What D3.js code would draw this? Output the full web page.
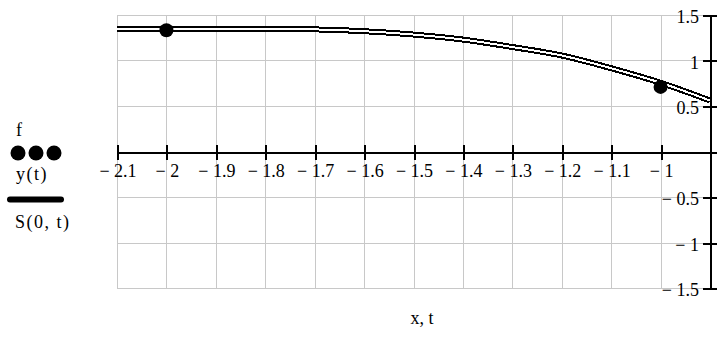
<!DOCTYPE html>
<html>
<head>
<meta charset="utf-8">
<script src="https://cdn.jsdelivr.net/npm/d3@7"></script>
<style>
  html, body { margin: 0; padding: 0; background: #fff; }
  svg { display: block; }
  text { font-family: "Liberation Serif", "Times New Roman", serif; font-size: 18px; fill: #000; }
</style>
</head>
<body>
<svg id="chart" width="717" height="349"></svg>
<script>
// Sample points f
const fX = [-2, -1];
const fY = [1.333, 0.71];

// Curve y(t) and its spline S(0, t)
const tVals = [-2.1, -2.0, -1.9, -1.8, -1.7, -1.6, -1.5, -1.4, -1.3, -1.2, -1.1, -1.0, -0.9];
const yVals = [1.35, 1.35, 1.35, 1.348, 1.342, 1.322, 1.285, 1.23, 1.148, 1.055, 0.915, 0.755, 0.56];

// Axis ticks
const xTicks = [-2.1, -2.0, -1.9, -1.8, -1.7, -1.6, -1.5, -1.4, -1.3, -1.2, -1.1, -1.0];
const xTickLabels = ["2.1", "2", "1.9", "1.8", "1.7", "1.6", "1.5", "1.4", "1.3", "1.2", "1.1", "1"];
const yTicks = [1.5, 1, 0.5, 0, -0.5, -1, -1.5];
const yTickLabels = ["1.5", "1", "0.5", "", "0.5", "1", "1.5"];

// Legend entries
const legendNames = ["f", "y(t)", "S(0, t)"];

const svg = d3.select("#chart");
const x = d3.scaleLinear().domain([-2.1, -0.9]).range([117, 710]);
const y = d3.scaleLinear().domain([-1.5, 1.5]).range([288, 15]);

// grid
const grid = svg.append("g").attr("shape-rendering", "crispEdges");
grid.selectAll("line.v").data(d3.range(-2.1, -0.85, 0.1).map(v => +v.toFixed(1)))
  .join("line")
  .attr("x1", d => Math.round(x(d)) + 0.5).attr("x2", d => Math.round(x(d)) + 0.5)
  .attr("y1", y(1.5)).attr("y2", y(-1.5))
  .attr("stroke", "#c8c8c8").attr("stroke-width", 1);
grid.selectAll("line.h").data(yTicks.filter(v => v !== 0))
  .join("line")
  .attr("x1", x(-2.1)).attr("x2", x(-0.9))
  .attr("y1", d => Math.round(y(d)) + 0.5).attr("y2", d => Math.round(y(d)) + 0.5)
  .attr("stroke", "#c8c8c8").attr("stroke-width", 1);

// x axis through y = 0
const y0 = Math.round(y(0)) + 0.5;
const ax = svg.append("g").attr("shape-rendering", "crispEdges");
ax.append("line").attr("x1", x(-2.1)).attr("x2", x(-0.9)).attr("y1", y0).attr("y2", y0)
  .attr("stroke", "#000").attr("stroke-width", 2);
ax.selectAll("line.xt").data(xTicks).join("line")
  .attr("x1", d => Math.round(x(d)) + 0.5).attr("x2", d => Math.round(x(d)) + 0.5)
  .attr("y1", y0 - 8).attr("y2", y0 + 7)
  .attr("stroke", "#000").attr("stroke-width", 2);

// right-hand y axis at x = -0.9
const xr = Math.round(x(-0.9)) + 0.5;
ax.append("line").attr("x1", xr).attr("x2", xr).attr("y1", y(1.5)).attr("y2", y(-1.5))
  .attr("stroke", "#000").attr("stroke-width", 2);
ax.selectAll("line.yt").data(yTicks).join("line")
  .attr("x1", xr - 8).attr("x2", xr + 8)
  .attr("y1", d => Math.round(y(d)) + 0.5).attr("y2", d => Math.round(y(d)) + 0.5)
  .attr("stroke", "#000").attr("stroke-width", 2);

// x tick labels
const xl = svg.append("g");
xTicks.forEach((d, i) => {
  xl.append("text").attr("x", x(d) + 1).attr("y", 177).attr("text-anchor", "middle")
    .text("\u2212 " + xTickLabels[i]);
});

// y tick labels
const yl = svg.append("g");
yTicks.forEach((d, i) => {
  if (!yTickLabels[i]) return;
  yl.append("text").attr("x", 699).attr("y", y(d) + 8).attr("text-anchor", "end")
    .text((d < 0 ? "\u2212 " : "") + yTickLabels[i]);
});

// y(t): thick black trace, S(0, t): thin white trace drawn inside it
const line = d3.line().x((d, i) => x(tVals[i])).y(d => y(d)).curve(d3.curveMonotoneX);
svg.append("path").datum(yVals).attr("d", line)
  .attr("fill", "none").attr("stroke", "#000").attr("stroke-width", 6)
  .attr("shape-rendering", "crispEdges");
svg.append("path").datum(yVals).attr("d", line)
  .attr("fill", "none").attr("stroke", "#fff").attr("stroke-width", 2)
  .attr("shape-rendering", "crispEdges");

// f points
svg.append("g").selectAll("circle").data(fX).join("circle")
  .attr("cx", d => x(d)).attr("cy", (d, i) => y(fY[i])).attr("r", 7).attr("fill", "#000");

// legend
const lg = svg.append("g");
lg.append("text").attr("x", 16).attr("y", 136).text(legendNames[0]);
lg.selectAll("circle").data([18, 36, 54]).join("circle")
  .attr("cx", d => d).attr("cy", 153).attr("r", 7.5).attr("fill", "#000");
lg.append("text").attr("x", 16).attr("y", 180).attr("letter-spacing", 1.5).text(legendNames[1]);
lg.append("line").attr("x1", 10).attr("x2", 61).attr("y1", 199.5).attr("y2", 199.5)
  .attr("stroke", "#000").attr("stroke-width", 6).attr("stroke-linecap", "round");
lg.append("text").attr("x", 15).attr("y", 228).attr("letter-spacing", 1.5).text(legendNames[2]);

// x axis title
svg.append("text").attr("x", 422).attr("y", 324).attr("text-anchor", "middle").text("x, t");
</script>
</body>
</html>
